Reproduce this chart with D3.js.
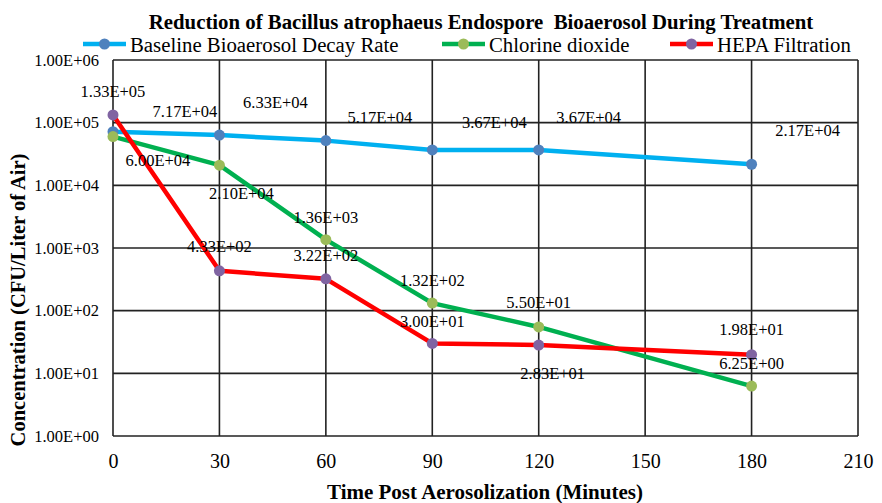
<!DOCTYPE html>
<html><head><meta charset="utf-8">
<script src="https://cdn.jsdelivr.net/npm/d3@7"></script>
<style>body{margin:0;background:#fff}svg{display:block}</style>
</head><body>
<svg id="c" width="882" height="503"></svg>
<script>
const times = [0, 30, 60, 90, 120, 180];
const baseline = [71700, 63300, 51700, 36700, 36700, 21700];
const chlorine = [60000, 21000, 1360, 132, 55, 6.25];
const hepa = [133000, 433, 322, 30, 28.3, 19.8];
const baselineLabels = ["7.17E+04","6.33E+04","5.17E+04","3.67E+04","3.67E+04","2.17E+04"];
const chlorineLabels = ["6.00E+04","2.10E+04","1.36E+03","1.32E+02","5.50E+01","6.25E+00"];
const hepaLabels = ["1.33E+05","4.33E+02","3.22E+02","3.00E+01","2.83E+01","1.98E+01"];
const xTicks = [0, 30, 60, 90, 120, 150, 180, 210];
const yTicks = [1, 10, 100, 1000, 10000, 100000, 1000000];
const yTickLabels = ["1.00E+00","1.00E+01","1.00E+02","1.00E+03","1.00E+04","1.00E+05","1.00E+06"];
const seriesNames = ["Baseline Bioaerosol Decay Rate", "Chlorine dioxide", "HEPA Filtration"];

// layout (label offsets in px, relative to point)
const baselineOff = [[72,-20],[56,-33],[54,-23],[62,-27],[50,-32],[56,-34]];
const chlorineOff = [[45,24],[22,28],[0,-22],[0,-23],[0,-24],[0,-23]];
const hepaOff = [[0,-23],[0,-24],[0,-23],[0,-22],[14,28],[0,-25]];

const svg = d3.select("#c");
const L = 113, R = 858, T = 60, B = 436;
const x = d3.scaleLinear().domain([0, 210]).range([L, R]);
const y = d3.scaleLog().domain([1, 1e6]).range([B, T]);
const serif = "'Liberation Serif','Times New Roman',serif";

// grid
const g = svg.append("g");
g.selectAll("line.v").data(xTicks).join("line")
  .attr("x1", d => x(d)).attr("x2", d => x(d)).attr("y1", T).attr("y2", B)
  .attr("stroke", "#222").attr("stroke-width", 1.6);
g.selectAll("line.h").data(yTicks).join("line")
  .attr("y1", d => y(d)).attr("y2", d => y(d)).attr("x1", L).attr("x2", R)
  .attr("stroke", "#222").attr("stroke-width", 1.6);

// axes via d3 axis
const xAxis = svg.append("g").attr("transform", `translate(0,${B})`)
  .call(d3.axisBottom(x).tickValues(xTicks).tickSize(0).tickPadding(18));
xAxis.select(".domain").remove();
xAxis.selectAll("text").attr("font-family", serif).attr("font-size", 20).attr("fill", "#000");

const yAxis = svg.append("g").attr("transform", `translate(${L},0)`)
  .call(d3.axisLeft(y).tickValues(yTicks).tickSize(0).tickPadding(14)
    .tickFormat((d, i) => yTickLabels[i]));
yAxis.select(".domain").remove();
yAxis.selectAll("text").attr("font-family", serif).attr("font-size", 16.5).attr("fill", "#000");

const series = [
  {vals: baseline, labels: baselineLabels, off: baselineOff, line: "#00B0F0", mark: "#4F81BD"},
  {vals: chlorine, labels: chlorineLabels, off: chlorineOff, line: "#00B050", mark: "#9BBB59"},
  {vals: hepa, labels: hepaLabels, off: hepaOff, line: "#FF0000", mark: "#8064A2"}
];

const line = d3.line().x(d => x(d[0])).y(d => y(d[1]));
series.forEach(s => {
  const pts = times.map((t, i) => [t, s.vals[i]]);
  svg.append("path").datum(pts).attr("d", line).attr("fill", "none")
    .attr("stroke", s.line).attr("stroke-width", 4.5).attr("stroke-linejoin", "round");
});
series.forEach(s => {
  const pts = times.map((t, i) => [t, s.vals[i]]);
  svg.append("g").selectAll("circle").data(pts).join("circle")
    .attr("cx", d => x(d[0])).attr("cy", d => y(d[1])).attr("r", 5.5).attr("fill", s.mark);
});
series.forEach(s => {
  const pts = times.map((t, i) => [t, s.vals[i], s.labels[i], s.off[i]]);
  svg.append("g").selectAll("text").data(pts).join("text")
    .attr("x", d => x(d[0]) + d[3][0]).attr("y", d => y(d[1]) + d[3][1])
    .attr("text-anchor", "middle").attr("dominant-baseline", "central")
    .attr("font-family", serif).attr("font-size", 16.5).attr("fill", "#000")
    .text(d => d[2]);
});

// title
svg.append("text").attr("x", 481).attr("y", 29).attr("text-anchor", "middle")
  .attr("font-family", serif).attr("font-weight", "bold").attr("font-size", 20.8)
  .text("Reduction of Bacillus atrophaeus Endospore\u00a0 Bioaerosol During Treatment");

// legend
const legX = [83, 442, 670];
seriesNames.forEach((n, i) => {
  const s = series[i];
  const lg = svg.append("g").attr("transform", `translate(${legX[i]},44)`);
  lg.append("line").attr("x1", 0).attr("x2", 43).attr("y1", 0).attr("y2", 0)
    .attr("stroke", s.line).attr("stroke-width", 4.5);
  lg.append("circle").attr("cx", 21.5).attr("cy", 0).attr("r", 5.5).attr("fill", s.mark);
  lg.append("text").attr("x", 47).attr("y", 0).attr("dominant-baseline", "central")
    .attr("font-family", serif).attr("font-size", 20.8).text(n);
});

// axis titles
svg.append("text").attr("x", 485).attr("y", 499).attr("text-anchor", "middle")
  .attr("font-family", serif).attr("font-weight", "bold").attr("font-size", 21)
  .text("Time Post Aerosolization (Minutes)");
svg.append("text").attr("transform", "translate(24.5,300) rotate(-90)").attr("text-anchor", "middle")
  .attr("font-family", serif).attr("font-weight", "bold").attr("font-size", 20.5)
  .text("Concentration (CFU/Liter of Air)");
</script>
</body></html>
